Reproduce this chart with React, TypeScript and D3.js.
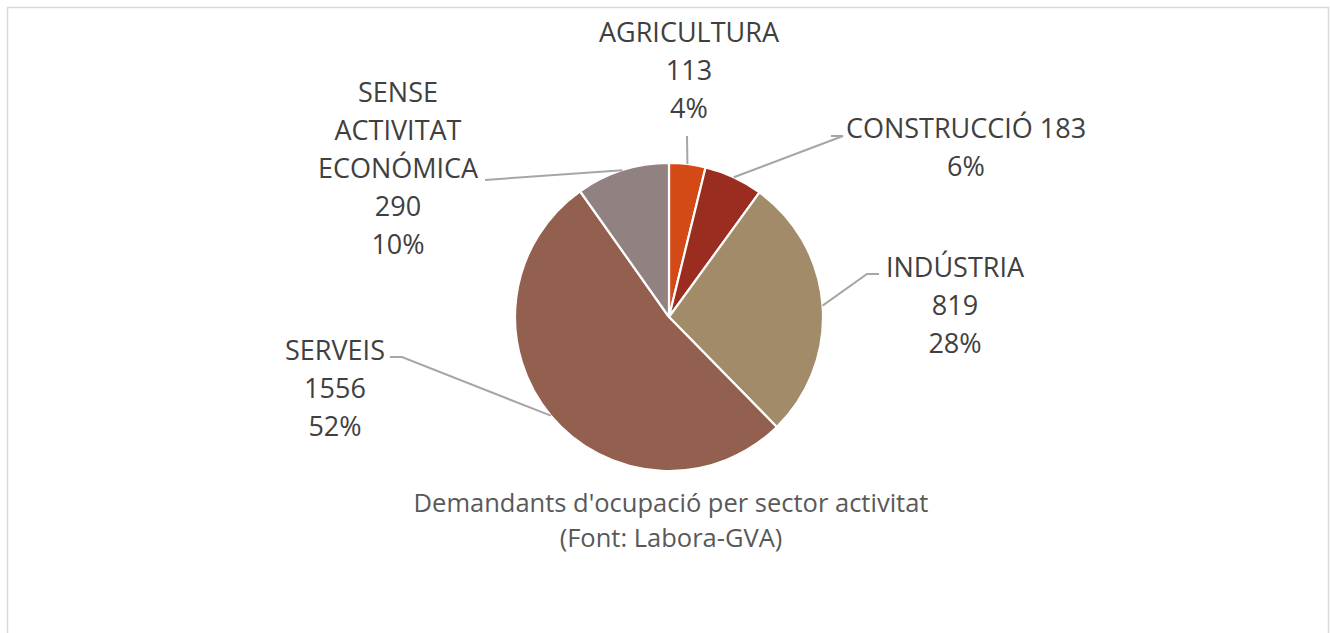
import React from "react";
import * as d3 from "d3";

const categories = ["AGRICULTURA", "CONSTRUCCIÓ", "INDÚSTRIA", "SERVEIS", "SENSE ACTIVITAT ECONÓMICA"];
const values = [113, 183, 819, 1556, 290];
const colors = ["#D44A17", "#9A2C20", "#A28B69", "#93604F", "#918281"];
const titleLines = ["Demandants d'ocupació per sector activitat", "(Font: Labora-GVA)"];

// label layout: lines shown, centre x, first baseline, leader end point (label side)
const labelLines = [
  ["AGRICULTURA", "113", "4%"],
  ["CONSTRUCCIÓ 183", "6%"],
  ["INDÚSTRIA", "819", "28%"],
  ["SERVEIS", "1556", "52%"],
  ["SENSE", "ACTIVITAT", "ECONÓMICA", "290", "10%"],
];
const labelPos = [
  { x: 689, y: 42 },
  { x: 966, y: 138 },
  { x: 955, y: 277 },
  { x: 335, y: 360 },
  { x: 398, y: 102 },
];
const leaderEnds: ([number, number][])[] = [
  [[687, 136]],
  [[843, 136], [831, 136]],
  [[867, 274], [879, 274]],
  [[402, 357], [390, 357]],
  [[485, 180]],
];

const W = 1330, H = 633;
const cx = 669, cy = 317, R = 154;
const LH = 38;

export default function App() {
  const pie = d3.pie<number>().sort(null).value((d) => d);
  const arcs = pie(values);
  const arc = d3.arc<d3.PieArcDatum<number>>().innerRadius(0).outerRadius(R);
  return (
    <svg width={W} height={H} style={{ position: "absolute", left: 0, top: 0 }}
      fontFamily="'Open Sans', 'Noto Sans', sans-serif">
      <rect x={0} y={0} width={W} height={H} fill="#fff" />
      <rect x={7.5} y={7.5} width={1321} height={700} fill="none" stroke="#D9D9D9" strokeWidth={1.5} />
      <g transform={`translate(${cx},${cy})`}>
        {arcs.map((a, i) => (
          <path key={i} d={arc(a) || ""} fill={colors[i]} stroke="#fff" strokeWidth={2.2} strokeLinejoin="round" />
        ))}
      </g>
      {arcs.map((a, i) => {
        const mid = (a.startAngle + a.endAngle) / 2;
        const px = cx + R * Math.sin(mid);
        const py = cy - R * Math.cos(mid);
        const pts: [number, number][] = [[px, py], ...leaderEnds[i]];
        return (
          <polyline key={i} points={pts.map((p) => p.join(",")).join(" ")} fill="none" stroke="#A6A6A6" strokeWidth={2} />
        );
      })}
      {labelLines.map((lines, i) => (
        <text key={i} textAnchor="middle" fontSize={27} fill="#404040">
          {lines.map((l, j) => (
            <tspan key={j} x={labelPos[i].x} y={labelPos[i].y + j * LH}>{l}</tspan>
          ))}
        </text>
      ))}
      <text textAnchor="middle" fontSize={25.5} fill="#595959">
        {titleLines.map((l, j) => (
          <tspan key={j} x={671} y={512 + j * 35}>{l}</tspan>
        ))}
      </text>
    </svg>
  );
}
